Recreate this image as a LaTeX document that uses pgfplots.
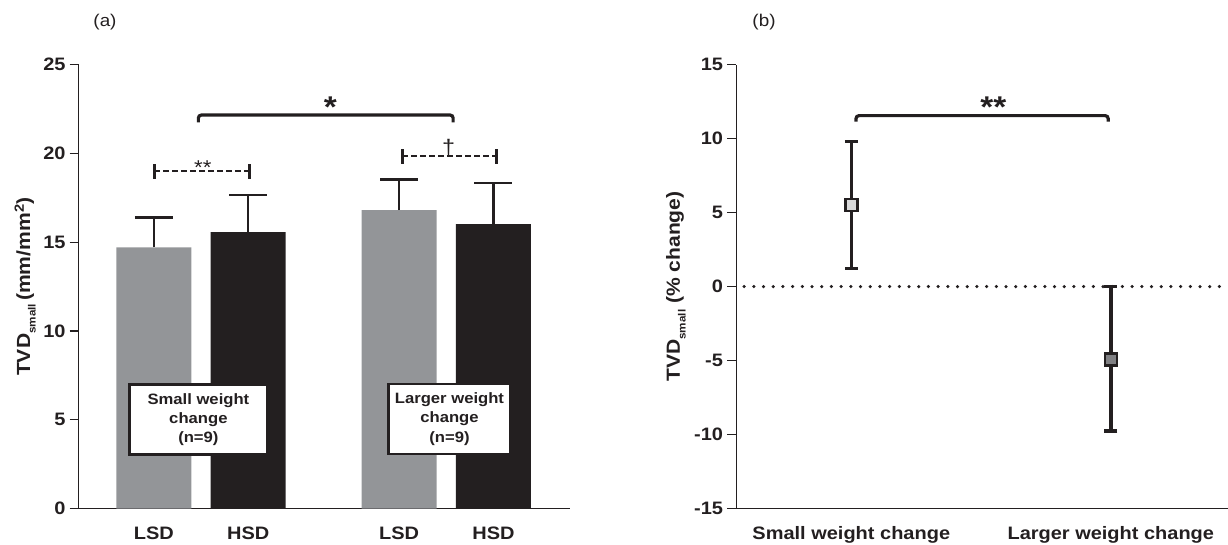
\documentclass[border=0pt]{standalone}
\usepackage{pgfplots}
\pgfplotsset{compat=1.18}
\usepackage{fontspec}
\setmainfont{Liberation Sans}[FakeStretch=1.11]
\definecolor{ink}{HTML}{231F20}
\definecolor{barGray}{HTML}{939598}
\definecolor{barBlack}{HTML}{231F20}
\definecolor{mkLight}{HTML}{D9D9DA}
\definecolor{mkDark}{HTML}{808083}
\newcommand{\tklab}{\fontsize{18}{21}\selectfont\bfseries}
\pgfplotsset{
  common/.style={
    scale only axis, clip=false,
    axis x line*=bottom, axis y line*=left,
    axis line style={line width=1.3pt, draw=ink},
    tick align=outside, major tick length=9pt,
    major tick style={line width=1.3pt, draw=ink},
    xtick style={draw=none},
    tick label style={font=\tklab, text=ink},
    yticklabel style={anchor=east, inner sep=0pt, xshift=-4pt},
    xticklabel style={anchor=base, inner sep=0pt, yshift=-21.5pt},
  }
}
\begin{document}
\begin{tikzpicture}
\path[use as bounding box] (0,0) rectangle (1228pt,-545pt);
\node[font=\fontsize{17}{20}\selectfont, text=ink] at (105pt,-22.6pt) {(a)};
\node[font=\fontsize{17}{20}\selectfont, text=ink] at (764pt,-22.6pt) {(b)};
% ---------------- panel (a)
\begin{axis}[common, at={(78.7pt,-508.5pt)}, anchor=south west,
  width=491.3pt, height=443.9pt,
  xmin=0.203, xmax=5.412, ymin=0, ymax=25,
  ytick={0,5,10,15,20,25}, yticklabels={0,5,10,15,20,25},
  xtick={1,2,3.6,4.6}, xticklabels={LSD,HSD,LSD,HSD},
  ylabel={\fontsize{19}{22}\selectfont\bfseries TVD\raisebox{-0.3em}{\fontsize{10.5}{11}\selectfont small}\,(mm/mm\textsuperscript{2})},
  ylabel style={at={(axis description cs:-0.109,0.5)}, anchor=center, text=ink},
]
\addplot[fill=barGray, draw=none, ybar, bar width=0.796, bar shift=0pt,
  error bars/.cd, y dir=plus, y explicit,
  error bar style={line width=2.5pt, draw=ink},
  error mark options={rotate=90, line width=2.5pt, mark size=19pt, draw=ink}]
  coordinates {(1,14.70) +- (0,1.69) (3.6,16.80) +- (0,1.72)};
\addplot[fill=barBlack, draw=none, ybar, bar width=0.796, bar shift=0pt,
  error bars/.cd, y dir=plus, y explicit,
  error bar style={line width=2.5pt, draw=ink},
  error mark options={rotate=90, line width=2.5pt, mark size=19pt, draw=ink}]
  coordinates {(2,15.56) +- (0,2.10) (4.6,16.01) +- (0,2.31)};
% solid bracket
\addplot[line width=3.2pt, draw=ink, rounded corners=3pt]
  coordinates {(1.472,21.75) (1.472,22.16) (4.173,22.16) (4.173,21.75)};
% dashed bracket **
\addplot[line width=2pt, draw=ink, dash pattern=on 5.5pt off 3.5pt]
  coordinates {(1.002,19.0) (2.014,19.0)};
\addplot[line width=3pt, draw=ink] coordinates {(1.002,18.58) (1.002,19.40)};
\addplot[line width=3pt, draw=ink] coordinates {(2.014,18.58) (2.014,19.40)};
% dashed bracket dagger
\addplot[line width=2pt, draw=ink, dash pattern=on 5.5pt off 3.5pt]
  coordinates {(3.632,19.85) (4.63,19.85)};
\addplot[line width=3pt, draw=ink] coordinates {(3.632,19.42) (3.632,20.25)};
\addplot[line width=3pt, draw=ink] coordinates {(4.63,19.42) (4.63,20.25)};
\node[font=\fontsize{30}{30}\selectfont\bfseries, text=ink, anchor=base, inner sep=0pt] at (axis cs:2.870,22.0) {*};
\node[font=\fontsize{20}{20}\selectfont, text=ink, anchor=base, inner sep=0pt] at (axis cs:1.519,18.80) {**};
\node[font=\fontsize{21}{21}\selectfont, text=ink, anchor=south, inner sep=0pt] at (axis cs:4.126,19.85) {†};
\node[draw=ink, line width=2.5pt, fill=white, minimum width=137.5pt, minimum height=70pt, align=center, inner sep=0pt, font=\fontsize{15}{19.3}\selectfont\bfseries, text=ink] at (axis cs:1.472,5.0) {Small weight\\change\\(n=9)};
\node[draw=ink, line width=2.5pt, fill=white, minimum width=122pt, minimum height=70pt, align=center, inner sep=0pt, font=\fontsize{15}{19.3}\selectfont\bfseries, text=ink] at (axis cs:4.134,5.05) {Larger weight\\change\\(n=9)};
\end{axis}
% ---------------- panel (b)
\begin{axis}[common, at={(736.2pt,-508.5pt)}, anchor=south west,
  width=491.8pt, height=443.9pt,
  xmin=0.5565, xmax=2.4516, ymin=-15, ymax=15,
  ytick={-15,-10,-5,0,5,10,15}, yticklabels={-15,-10,-5,0,5,10,15},
  xtick={1,2}, xticklabels={Small weight change, Larger weight change},
  ylabel={\fontsize{19}{22}\selectfont\bfseries TVD\raisebox{-0.3em}{\fontsize{10.5}{11}\selectfont small} (\% change)},
  ylabel style={at={(axis description cs:-0.1224,0.5)}, anchor=center, text=ink},
]
\addplot[draw=ink, line width=3.5pt, line cap=round, dash pattern=on 0pt off 9.7pt]
  coordinates {(0.587,0) (2.4516,0)};
\addplot[draw=none, mark=square*, mark size=6pt,
  mark options={fill=mkLight, draw=ink, line width=2.5pt, rounded corners=1.5pt},
  error bars/.cd, y dir=both, y explicit,
  error bar style={line width=3.5pt, draw=ink},
  error mark options={rotate=90, line width=3.5pt, mark size=6.5pt, draw=ink, rounded corners=0pt}]
  coordinates {(1,5.50) += (0,4.30) -= (0,4.28)};
\addplot[draw=none, mark=square*, mark size=6pt,
  mark options={fill=mkDark, draw=ink, line width=2.5pt, rounded corners=1.5pt},
  error bars/.cd, y dir=both, y explicit,
  error bar style={line width=3.5pt, draw=ink},
  error mark options={rotate=90, line width=3.5pt, mark size=6.5pt, draw=ink, rounded corners=0pt}]
  coordinates {(2,-4.93) += (0,4.93) -= (0,4.84)};
\addplot[line width=3.2pt, draw=ink, rounded corners=3pt]
  coordinates {(1.018,11.14) (1.018,11.55) (1.99,11.55) (1.99,11.14)};
\node[font=\fontsize{30}{30}\selectfont\bfseries, text=ink, anchor=base, inner sep=0pt] at (axis cs:1.547,11.41) {**};
\end{axis}
\end{tikzpicture}
\end{document}
